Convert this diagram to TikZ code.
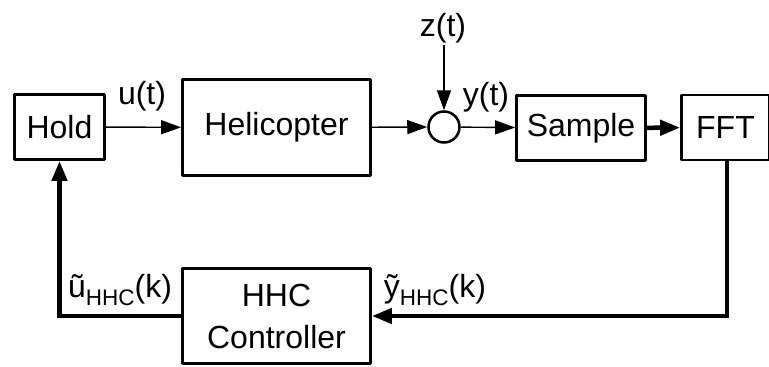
\documentclass[tikz,border=0pt]{standalone}
\usepackage{fontspec}
\setmainfont{Liberation Sans}
\usetikzlibrary{arrows.meta}
\newcommand{\subtxt}[1]{\raisebox{-8pt}{\fontsize{22.5}{24}\selectfont #1}}
\begin{document}
\begin{tikzpicture}[x=1pt,y=-1pt,
  blk/.style={draw, line width=2.8pt, inner sep=0pt, line join=round, align=center,
    font=\fontsize{32}{42}\selectfont},
  lbl/.style={inner sep=0pt, font=\fontsize{32}{38}\selectfont},
  thinarrow/.style={line width=1.4pt, -{Triangle[length=20pt,width=14pt]}},
  thickarrow/.style={line width=4.5pt, -{Triangle[length=20pt,width=15pt]}},
]
\useasboundingbox (0,0) rectangle (769,367);
% blocks
\node[blk, minimum width=90pt, minimum height=65pt] (hold) at (59.5,127) {Hold};
\node[blk, minimum width=188pt, minimum height=96pt] (heli) at (276.5,127.5) {Helicopter};
\node[draw, circle, line width=2.5pt, minimum size=31pt, inner sep=0pt] (sum) at (444,127) {};
\node[blk, minimum width=129pt, minimum height=65pt] (samp) at (581,128) {Sample};
\node[blk, minimum width=88pt, minimum height=65pt] (fft) at (725.5,127.5) {FFT};
\node[blk, minimum width=188pt, minimum height=95pt] (hhc) at (276.5,316) {HHC\\Controller};
% labels
\node[lbl] (ut) at (142,96) {u(t)};
\node[lbl] (zt) at (443,28) {z(t)};
\node[lbl] (yt) at (486,97) {y(t)};
\node[lbl] (uh) at (120,290) {ũ\subtxt{HHC}(k)};
\node[lbl] (yh) at (435,290) {ỹ\subtxt{HHC}(k)};
% helper coordinates
\coordinate (zin) at (444,45);
\coordinate (fb) at (727,316);
% connectors
\draw[thinarrow] (hold) -- (heli);
\draw[thinarrow] (heli) -- (sum);
\draw[thinarrow] (zin) -- (sum);
\draw[thinarrow] (sum) -- (samp);
\draw[thickarrow] (samp) -- (fft);
\draw[thickarrow] (fft.south -| fb) -- (fb) -- (hhc.east);
\draw[thickarrow] (hhc.west) -| (hold.south);
\end{tikzpicture}
\end{document}
